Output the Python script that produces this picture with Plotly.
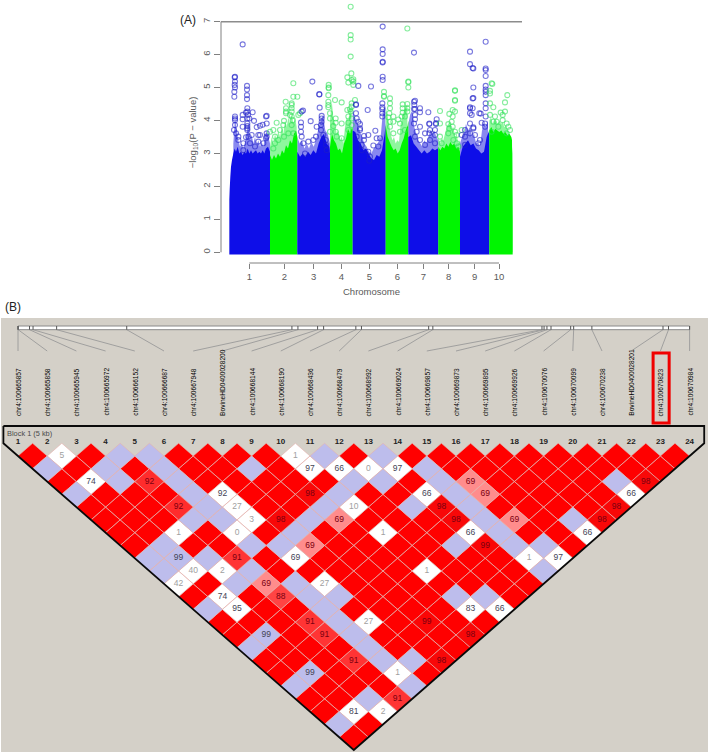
import plotly.graph_objects as go

# ---------- Panel A: Manhattan plot data (position in genome-axis units, -log10 P) ----------
chrom_ticks = [60, 165, 253, 336, 420, 504, 582, 658, 736, 809]
chrom_names = ["1", "2", "3", "4", "5", "6", "7", "8", "9", "10"]

solid_pos = [
    [0, 1, 3, 5, 8, 12, 16, 20, 25, 30, 35, 40, 45, 50, 55, 60, 65, 70, 75, 80, 85, 90, 95, 100, 105, 110, 116, 122],
    list(range(122, 201, 6)) + [204],
    list(range(204, 301, 8)) + [302],
    list(range(302, 369, 6)) + [370],
    list(range(370, 467, 8)) + [469],
    list(range(469, 536, 6)) + [537],
    list(range(537, 626, 8)) + [627],
    list(range(627, 688, 6)) + [692],
    list(range(692, 781, 8)),
    list(range(780, 847, 6)) + [848, 850],
]
solid_top = [
    [1.6, 1.9, 2.3, 2.6, 2.8, 3.0, 3.15, 3.05, 3.2, 3.0, 3.05, 2.95, 3.05, 3.0, 3.15, 3.0, 3.1, 3.0, 3.05, 3.1, 3.0,
     3.05, 3.0, 3.1, 3.0, 3.15, 3.2, 3.05],
    [2.95, 2.8, 2.95, 2.85, 3.0, 2.9, 3.1, 3.0, 3.25, 3.15, 3.4, 3.3, 3.6, 3.7, 3.5],
    [3.05, 2.9, 3.0, 2.9, 3.05, 2.95, 3.1, 3.0, 3.3, 3.5, 3.6, 3.3, 3.2, 3.0],
    [3.2, 3.6, 3.4, 3.3, 3.1, 3.15, 3.0, 3.3, 3.45, 3.75, 3.6, 3.8, 3.75],
    [3.7, 3.65, 3.4, 3.3, 3.1, 3.15, 3.0, 2.85, 2.8, 2.95, 2.9, 3.1, 3.6, 3.9],
    [3.85, 3.5, 3.35, 3.2, 3.1, 3.15, 3.0, 3.1, 3.3, 3.45, 3.7, 3.85, 4.0],
    [3.5, 3.55, 3.3, 3.2, 3.1, 3.0, 3.1, 3.0, 3.05, 3.15, 3.1, 3.15, 3.1],
    [3.2, 3.1, 3.2, 3.15, 3.3, 3.2, 3.35, 3.25, 3.3, 3.15, 3.2, 3.05],
    [2.9, 3.2, 3.3, 3.4, 3.25, 3.3, 3.15, 3.1, 3.0, 3.05, 3.5, 3.7],
    [3.7, 3.8, 3.65, 3.75, 3.7, 3.65, 3.7, 3.6, 3.65, 3.55, 3.6, 3.5, 3.4, 1.0],
]
band_pos = [
    list(range(12, 123, 5)),
    list(range(122, 203, 5)),
    list(range(204, 303, 7)),
    list(range(302, 368, 5)),
    list(range(370, 469, 7)),
    list(range(469, 535, 5)),
    list(range(537, 628, 6)),
    list(range(627, 693, 5)),
    list(range(692, 777, 6)),
    list(range(780, 851, 5)),
]
band_top = [
    [3.3, 4.1, 3.7, 3.4, 3.2, 3.3, 3.15, 3.35, 3.6, 3.95, 3.4, 3.55, 3.3, 3.5, 3.25, 3.4, 3.2, 3.35, 3.2, 3.5, 3.7, 3.5, 3.3],
    [3.2, 3.5, 3.3, 3.6, 3.4, 3.7, 3.5, 3.8, 3.6, 4.0, 3.8, 4.1, 3.9, 4.2, 3.9, 4.1, 3.8],
    [3.5, 3.3, 3.4, 3.15, 3.3, 3.15, 3.35, 3.2, 3.4, 3.75, 4.0, 4.15, 3.7, 3.6, 3.3],
    [4.0, 4.6, 4.1, 3.9, 3.6, 3.7, 3.4, 3.5, 3.3, 3.8, 4.1, 4.0, 4.35, 4.4],
    [4.3, 4.1, 3.9, 3.7, 3.5, 3.3, 3.2, 3.05, 3.0, 3.15, 3.2, 3.35, 3.5, 4.3, 4.4],
    [4.4, 4.2, 3.9, 3.6, 3.4, 3.5, 3.3, 3.4, 3.35, 3.9, 4.1, 4.3, 4.4, 4.5],
    [3.9, 4.2, 4.3, 3.8, 3.6, 3.4, 3.3, 3.2, 3.4, 3.3, 3.5, 3.7, 3.6, 3.7, 3.5, 3.4],
    [3.5, 3.3, 3.45, 3.4, 3.6, 3.8, 3.9, 3.95, 3.7, 3.8, 3.5, 3.6, 3.3, 3.4],
    [3.3, 3.5, 3.6, 3.9, 3.7, 3.8, 3.5, 3.6, 3.3, 3.35, 3.2, 3.7, 3.9, 3.8, 4.0],
    [4.0, 4.1, 3.9, 4.0, 4.0, 3.9, 4.0, 3.9, 3.95, 3.8, 3.85, 3.7, 3.6, 3.5, 3.0],
]

chr1_pos = [40, 16, 17, 16, 17, 15, 15, 17, 53, 53, 53, 53, 54, 54, 56, 54, 50, 40, 40, 70, 60, 74, 54, 54, 54, 54,
            82, 92, 100, 112, 112, 110, 17, 17, 17, 14, 20, 27, 17, 40, 50, 57, 67, 87, 92, 112, 112, 27, 42, 62, 87,
            110, 102, 42, 77]
chr1_val = [6.31, 5.31, 5.18, 5.08, 5.0, 4.87, 4.72, 5.33, 5.05, 4.94, 4.77, 4.65, 4.37, 4.27, 4.17, 4.06, 4.24, 4.17,
            4.04, 4.25, 4.06, 3.99, 3.91, 3.83, 3.76, 3.71, 3.8, 3.84, 3.87, 3.91, 4.14, 4.12, 4.12, 4.01, 3.86, 3.71,
            3.61, 3.51, 4.06, 3.81, 3.49, 3.51, 3.56, 3.56, 3.56, 3.61, 3.51, 3.41, 3.31, 3.31, 3.36, 3.46, 3.31, 3.1, 3.21]
chr2_pos = [192, 204, 192, 169, 187, 187, 170, 187, 170, 187, 170, 142, 164, 190, 207, 212, 132, 122, 162, 187, 182,
            152, 137, 137, 164, 187, 192, 147, 177, 132]
chr2_val = [5.13, 4.72, 4.72, 4.57, 4.52, 4.47, 4.37, 4.37, 4.27, 4.27, 4.22, 3.93, 3.99, 4.01, 4.17, 4.22, 3.71, 3.66,
            3.86, 4.12, 4.17, 3.71, 3.51, 3.31, 3.51, 3.86, 3.61, 3.41, 3.61, 3.15]
chr3_pos = [249, 270, 270, 221, 217, 244, 215, 215, 215, 271, 277, 277, 277, 275, 275, 262, 260, 237, 252, 217, 222,
            289, 290, 292, 227, 282]
chr3_val = [5.18, 4.79, 4.8, 4.3, 4.27, 3.98, 3.94, 3.81, 3.66, 4.39, 4.14, 4.06, 3.96, 3.86, 3.71, 3.81, 3.51, 3.36,
            3.41, 3.51, 3.31, 3.41, 3.26, 3.1, 3.0, 3.56]
chr4_pos = [364, 364, 364, 364, 366, 354, 367, 357, 372, 372, 372, 298, 298, 298, 297, 297, 297, 297, 317, 337, 354,
            362, 364, 367, 377, 367, 357, 367, 357, 367, 357, 319, 319, 312, 337, 319, 302, 322, 337, 302, 302]
chr4_val = [7.45, 6.59, 6.46, 5.94, 5.43, 5.31, 5.23, 5.15, 5.25, 5.18, 5.08, 5.08, 4.98, 5.0, 4.77, 4.57, 4.47, 4.4,
            4.62, 4.55, 4.32, 4.34, 4.27, 4.52, 4.62, 4.42, 4.12, 4.06, 3.93, 3.86, 3.71, 4.06, 3.93, 3.83, 3.91, 3.66,
            3.66, 3.51, 3.46, 4.22, 4.06]
chr5_pos = [387, 425, 460, 460, 460, 460, 460, 460, 460, 380, 380, 415, 459, 459, 459, 459, 459, 380, 382, 387, 392,
            392, 392, 382, 404, 404, 438, 417, 442, 452, 432, 397, 397, 417, 422, 420, 447]
chr5_val = [5.05, 5.03, 6.85, 6.16, 6.02, 5.78, 5.76, 5.33, 5.23, 4.49, 4.47, 4.32, 4.52, 4.4, 4.34, 4.22, 4.12, 4.22,
            4.06, 3.96, 3.89, 3.76, 3.71, 3.51, 3.53, 3.41, 3.69, 3.56, 3.46, 3.46, 3.24, 3.26, 3.1, 3.05, 2.9, 2.78, 3.21]
chr6_pos = [534, 537, 537, 537, 464, 464, 464, 482, 482, 482, 480, 477, 492, 520, 534, 520, 534, 520, 534, 492, 512,
            507, 527, 517, 482, 492, 512, 527, 482]
chr6_val = [6.79, 5.18, 5.16, 5.0, 4.87, 4.74, 4.72, 4.67, 4.52, 4.37, 4.22, 4.1, 4.12, 4.49, 4.5, 4.37, 4.37, 4.24,
            4.27, 3.96, 3.91, 4.03, 4.12, 4.12, 3.81, 3.61, 3.66, 3.71, 3.96]
chr7_pos = [554, 557, 554, 555, 554, 557, 572, 572, 597, 557, 557, 554, 572, 600, 600, 620, 622, 620, 602, 617, 600,
            617, 587, 562, 587, 602, 617, 557, 572]
chr7_val = [6.06, 4.6, 4.57, 4.47, 4.35, 4.35, 4.37, 4.25, 4.25, 4.17, 4.04, 3.91, 3.81, 3.91, 3.89, 3.89, 4.04, 3.92,
            3.71, 3.71, 3.61, 3.56, 3.61, 3.66, 3.26, 3.41, 3.31, 3.51, 3.41]
chr8_pos = [677, 677, 677, 677, 632, 670, 677, 660, 670, 667, 632, 657, 670, 660, 677, 697, 682, 632, 672, 637, 687,
            682, 657]
chr8_val = [4.9, 4.92, 4.62, 4.6, 4.29, 4.32, 4.27, 4.2, 4.12, 3.96, 3.91, 3.89, 3.81, 3.76, 3.66, 3.71, 3.56, 3.51,
            3.41, 3.31, 3.21, 3.31, 3.61]
chr9_pos = [722, 722, 730, 732, 732, 769, 769, 769, 769, 769, 769, 769, 769, 732, 730, 769, 769, 769, 722, 730, 722,
            722, 727, 750, 754, 722, 732, 732, 757, 767, 767, 707, 697, 707, 722, 737, 707, 747, 752]
chr9_val = [6.09, 5.71, 5.59, 5.58, 5.0, 6.39, 5.58, 5.53, 5.35, 5.05, 4.94, 4.87, 4.77, 4.68, 4.67, 4.52, 4.37, 4.12,
            4.4, 4.37, 4.37, 4.22, 4.17, 4.22, 4.21, 3.91, 3.79, 3.76, 3.93, 3.91, 3.81, 3.71, 3.56, 3.51, 3.61, 3.56,
            3.26, 3.31, 3.41]
chr10_pos = [787, 789, 782, 782, 782, 792, 827, 834, 814, 827, 820, 782, 797, 792, 802, 820, 832, 807, 837, 842, 787,
             832]
chr10_val = [5.13, 5.11, 4.9, 4.82, 4.52, 4.4, 4.55, 4.77, 4.24, 4.27, 4.17, 4.17, 4.12, 3.96, 3.96, 4.01, 3.91, 3.81,
             3.81, 3.71, 3.66, 3.61]

outlier_pos = [chr1_pos, chr2_pos, chr3_pos, chr4_pos, chr5_pos, chr6_pos, chr7_pos, chr8_pos, chr9_pos, chr10_pos]
outlier_val = [chr1_val, chr2_val, chr3_val, chr4_val, chr5_val, chr6_val, chr7_val, chr8_val, chr9_val, chr10_val]

# ---------- Panel B: LD plot data ----------
snp_names = ["chr4:100665857", "chr4:100665858", "chr4:100665945", "chr4:100665972", "chr4:100666152",
             "chr4:100666687", "chr4:100667948", "BovineHD0400028200", "chr4:100668144", "chr4:100668190",
             "chr4:100668436", "chr4:100668479", "chr4:100668992", "chr4:100669024", "chr4:100669857",
             "chr4:100669873", "chr4:100669895", "chr4:100669926", "chr4:100670076", "chr4:100670099",
             "chr4:100670238", "BovineHD0400028201", "chr4:100670823", "chr4:100670984"]
snp_bp = [100665857, 100665858, 100665945, 100665972, 100666152, 100666687, 100667948, 100667994, 100668144,
          100668190, 100668436, 100668479, 100668992, 100669024, 100669857, 100669873, 100669895, 100669926,
          100670076, 100670099, 100670238, 100670781, 100670823, 100670984]
highlight_marker = 23

# one string per marker distance; R red, B lavender, W white, P/D shaded red, number = D' label
ld_rows = [
    "R W5 R B B R R R R W1 B R B R R R R R R R R R R",
    "B R B R B R R B R W97 W66 W0 W97 B R R R R R R R R",
    "R W74 B D92 B R R R R R B B R B P69 R R R R B D98",
    "B R R R B W92 R R D98 B R R W66 B P69 R R R R W66",
    "R R R D92 B W27 R R B W10 R B D98 B R R R R D98",
    "R R R B B W3 D98 B P69 R R R D98 B P69 R B D98",
    "R R W1 R W0 R B R R W1 R R W66 B R R W66",
    "R B R R B B P69 R R R R B D99 B B R",
    "B B99 B D91 R W69 R R R R R R R W1 W97",
    "B W40 W2 B R R R R R W1 R R R B",
    "W42 R B P69 B W27 R R R R R R R",
    "R W74 R D88 B B R R R B B R",
    "B W95 R R B R R R R W83 W66",
    "R R R D91 B W27 R D99 R R",
    "R B99 R D91 B R R R D98",
    "B R R R B R R R",
    "R R R D91 B B D98",
    "R B99 R R W1 R",
    "B R R R B",
    "R R B D91",
    "R W81 W2",
    "B R",
    "R",
]

BG = "#d4d0c8"
RED = "#ff0000"
LAV = "#bdbdec"
BLUE = "#0e0ee8"
GREEN = "#00f500"
AXC = "#808080"
TXT = "#5a5a5a"
shade_fill = {98: "#f80808", 99: "#fa0606", 92: "#ff2c2c", 91: "#ff3434", 88: "#ff4444", 69: "#ff8c8c"}

W, H = 709, 752
PX_PER_MARKER = 29.2
PX_PER_ROW = 12.78
def mx(px):
    return 1 + (px - 18) / PX_PER_MARKER
def dy(py):
    return 1 + (py - 456) / PX_PER_ROW

fig = go.Figure()

# ---------- Manhattan traces ----------
for i in range(10):
    rgb = "18,18,225" if i % 2 == 0 else "30,240,60"
    bx, by = band_pos[i], band_top[i]
    fig.add_trace(go.Scatter(x=bx + [bx[-1], bx[0]], y=by + [0, 0], fill="toself", mode="none",
                             fillcolor=f"rgba({rgb},0.5)", hoverinfo="skip", showlegend=False,
                             xaxis="x", yaxis="y"))
for i in range(10):
    col = BLUE if i % 2 == 0 else GREEN
    sx, sy = solid_pos[i], solid_top[i]
    fig.add_trace(go.Scatter(x=sx + [sx[-1], sx[0]], y=sy + [-0.07, -0.07], fill="toself", mode="none",
                             fillcolor=col, hoverinfo="skip", showlegend=False, xaxis="x", yaxis="y"))
for i in range(10):
    line_col = "rgba(30,30,200,0.6)" if i % 2 == 0 else "rgba(50,225,90,0.6)"
    fig.add_trace(go.Scatter(x=outlier_pos[i], y=outlier_val[i], mode="markers",
                             marker=dict(symbol="circle-open", size=5, line=dict(color=line_col, width=1.1),
                                         color=line_col),
                             showlegend=False, xaxis="x", yaxis="y"))

# ---------- LD traces ----------
bp0, bp1 = snp_bp[0], snp_bp[-1]
tick_x = [1 + (b - bp0) / (bp1 - bp0) * 23 for b in snp_bp]
strip_top, strip_bot, conn_end = dy(326), dy(329.7), dy(351)

fig.add_trace(go.Scatter(x=[1, 24, 24, 1, 1], y=[strip_top, strip_top, strip_bot, strip_bot, strip_top],
                         mode="lines", fill="toself", fillcolor="white", line=dict(color="#8a8a8a", width=1),
                         showlegend=False, hoverinfo="skip", xaxis="x2", yaxis="y2"))
tx, ty, cxs, cys = [], [], [], []
for m, t in enumerate(tick_x, start=1):
    tx += [t, t, None]
    ty += [strip_top, strip_bot, None]
    cxs += [t, m, None]
    cys += [strip_bot, conn_end, None]
fig.add_trace(go.Scatter(x=cxs, y=cys, mode="lines", line=dict(color="#9a9a9a", width=0.9),
                         showlegend=False, hoverinfo="skip", xaxis="x2", yaxis="y2"))
fig.add_trace(go.Scatter(x=tx, y=ty, mode="lines", line=dict(color="#555555", width=1),
                         showlegend=False, hoverinfo="skip", xaxis="x2", yaxis="y2"))

groups = {}
lab_x, lab_y, lab_t, lab_c = [], [], [], []
for di, row in enumerate(ld_rows, start=1):
    for k, tok in enumerate(row.split(), start=1):
        cx = k + di / 2
        kind = tok[0]
        num = int(tok[1:]) if len(tok) > 1 else None
        if kind == "R":
            fill = RED
        elif kind == "B":
            fill = LAV
        elif kind == "W":
            fill = "#ffffff"
        else:
            fill = shade_fill[num]
        g = groups.setdefault(fill, ([], []))
        g[0].extend([cx - 0.5, cx, cx + 0.5, cx, cx - 0.5, None])
        g[1].extend([di, di - 1, di, di + 1, di, None])
        if num is not None:
            lab_x.append(cx)
            lab_y.append(di)
            lab_t.append(str(num))
            if kind == "W" and num < 50:
                lab_c.append("#a0a0a0")
            elif kind in ("W", "B"):
                lab_c.append("#444455")
            else:
                lab_c.append("#7a0010")

for fill, (gx, gy) in groups.items():
    fig.add_trace(go.Scatter(x=gx, y=gy, mode="lines", fill="toself", fillcolor=fill,
                             line=dict(color="#e4b4ae", width=0.65), showlegend=False, hoverinfo="skip",
                             xaxis="x2", yaxis="y2"))
fig.add_trace(go.Scatter(x=lab_x, y=lab_y, mode="text", text=lab_t,
                         textfont=dict(family="Liberation Sans", size=8.5, color=lab_c),
                         showlegend=False, hoverinfo="skip", xaxis="x2", yaxis="y2"))

block_top = dy(426)
fig.add_trace(go.Scatter(x=[0.5, 24.5, 24.5, 12.5, 0.5, 0.5], y=[block_top, block_top, 0, 24, 0, block_top],
                         mode="lines", line=dict(color="#0a0a0a", width=1.8), showlegend=False, hoverinfo="skip",
                         xaxis="x2", yaxis="y2"))
fig.add_trace(go.Scatter(x=list(range(1, 25)), y=[dy(441.5)] * 24, mode="text",
                         text=[str(i) for i in range(1, 25)],
                         textfont=dict(family="Liberation Sans", size=8, color="#222222", weight="bold"),
                         showlegend=False, hoverinfo="skip", xaxis="x2", yaxis="y2"))

annotations = []
for m, name in enumerate(snp_names, start=1):
    annotations.append(dict(x=m, y=dy(418), xref="x2", yref="y2", text=name, textangle=-90, showarrow=False,
                            xanchor="center", yanchor="bottom",
                            font=dict(family="Liberation Sans", size=6.6, color="#000000")))
annotations.append(dict(x=mx(4.5), y=dy(433), xref="x2", yref="y2", text="Block 1 (5 kb)", showarrow=False,
                        xanchor="left", yanchor="middle", font=dict(family="Liberation Sans", size=7.4, color="#4a4a4a")))
annotations.append(dict(x=178 / W, y=1 - 20 / H, xref="paper", yref="paper", text="(A)", showarrow=False,
                        xanchor="left", yanchor="middle", font=dict(family="Liberation Sans", size=12, color="#222222")))
annotations.append(dict(x=3 / W, y=1 - 307 / H, xref="paper", yref="paper", text="(B)", showarrow=False,
                        xanchor="left", yanchor="middle", font=dict(family="Liberation Sans", size=12, color="#222222")))

shapes = [
    dict(type="line", xref="x domain", yref="y", x0=0, x1=0, y0=0, y1=7, line=dict(color=AXC, width=1)),
    dict(type="line", xref="x domain", yref="y", x0=0, x1=1, y0=7, y1=7, line=dict(color="#8c8c8c", width=1.5)),
    dict(type="line", xref="x", yref="y domain", x0=chrom_ticks[0], x1=chrom_ticks[-1], y0=0, y1=0,
         line=dict(color=AXC, width=1)),
    dict(type="rect", xref="x2", yref="y2", x0=highlight_marker - 0.25, x1=highlight_marker + 0.3,
         y0=dy(353), y1=dy(423), line=dict(color="#f00000", width=3)),
]

y_top_px, y_bot_px = 2, 263
y_per_px = 1 / 32.95
fig.update_layout(
    width=W, height=H, autosize=False, margin=dict(l=0, r=0, t=0, b=0),
    paper_bgcolor="white", plot_bgcolor="rgba(0,0,0,0)", showlegend=False,
    font=dict(family="Liberation Sans", color=TXT),
    annotations=annotations, shapes=shapes,
    xaxis=dict(domain=[221 / W, 522 / W], range=[-25, 878], anchor="y", showgrid=False, zeroline=False,
               tickmode="array", tickvals=chrom_ticks, ticktext=chrom_names, ticks="outside", ticklen=5,
               tickcolor=AXC, tickfont=dict(size=9.5, color=TXT), showline=False,
               title=dict(text="Chromosome", font=dict(size=9.5, color=TXT), standoff=6)),
    yaxis=dict(domain=[1 - y_bot_px / H, 1 - y_top_px / H],
               range=[(252.3 - y_bot_px) * y_per_px, (252.3 - y_top_px) * y_per_px], anchor="x", showgrid=False,
               zeroline=False, tickmode="array", tickvals=list(range(8)), ticks="outside", ticklen=6, tickcolor=AXC,
               tickangle=-90, tickfont=dict(size=9.5, color=TXT), showline=False,
               title=dict(text="−log<sub>10</sub>(P − value)", font=dict(size=9.5, color=TXT), standoff=2)),
    xaxis2=dict(domain=[1 / W, 708 / W], range=[mx(1), mx(708)], anchor="y2", visible=False),
    yaxis2=dict(domain=[0, 1 - 318 / H], range=[dy(752), dy(318)], anchor="x2", visible=False),
)
fig.add_shape(type="rect", xref="x2 domain", yref="y2 domain", x0=0, x1=1, y0=0, y1=1,
              fillcolor=BG, line=dict(width=0), layer="below")

fig.write_html("out.html", config={"displayModeBar": False}, post_script="document.body.style.margin='0';")
